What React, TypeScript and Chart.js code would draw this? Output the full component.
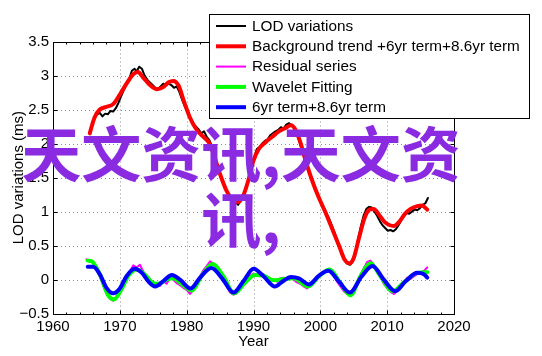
import React, { useEffect, useRef } from 'react';
import { Chart, registerables } from 'chart.js';

Chart.register(...registerables);

// ---------- axis ticks / labels ----------
const xTickValues = [1960, 1970, 1980, 1990, 2000, 2010, 2020];
const yTickValues = [-0.5, 0, 0.5, 1, 1.5, 2, 2.5, 3, 3.5];
const yTickLabels = ['\u22120.5', '0', '0.5', '1', '1.5', '2', '2.5', '3', '3.5'];
const xTitle = 'Year';
const yTitle = 'LOD variations (ms)';
const watermark = '天文资讯,天文资讯,';

const legendLabels = [
  'LOD variations',
  'Background trend +6yr term+8.6yr term',
  'Residual series',
  'Wavelet Fitting',
  '6yr term+8.6yr term',
];
const seriesColors = ['#000000', '#ff0000', '#ff00ff', '#00ff00', '#0000ff'];
const seriesWidths = [2, 4, 2, 4, 4];

// ---------- LOD variations (black) ----------
const lodYears = [
  1965.5, 1966.0, 1966.5, 1967.0, 1967.4, 1967.8, 1968.2, 1968.6, 1969.0, 1969.4,
  1969.8, 1970.3, 1970.8, 1971.3, 1971.8, 1972.2, 1972.5, 1972.9, 1973.3, 1973.7,
  1974.1, 1974.5, 1974.9, 1975.3, 1975.7, 1976.1, 1976.5, 1976.9, 1977.3, 1977.7,
  1978.1, 1978.5, 1978.9, 1979.3, 1979.7, 1980.2, 1980.7, 1981.2, 1981.7, 1982.2,
  1982.6, 1983.0, 1983.4, 1983.8, 1984.3, 1984.8, 1985.3, 1985.8, 1986.3, 1986.8,
  1987.3, 1987.7, 1988.1, 1988.5, 1988.9, 1989.3, 1989.7, 1990.1, 1990.5, 1990.9,
  1991.3, 1991.7, 1992.1, 1992.5, 1992.9, 1993.3, 1993.7, 1994.1, 1994.5, 1994.9,
  1995.3, 1995.7, 1996.1, 1996.5, 1996.9, 1997.3, 1997.7, 1998.1, 1998.5, 1998.9,
  1999.3, 1999.7, 2000.1, 2000.5, 2000.9, 2001.3, 2001.7, 2002.1, 2002.5, 2002.9,
  2003.3, 2003.7, 2004.1, 2004.5, 2004.9, 2005.3, 2005.7, 2006.1, 2006.5, 2006.9,
  2007.3, 2007.7, 2008.1, 2008.5, 2008.9, 2009.3, 2009.7, 2010.1, 2010.5, 2010.9,
  2011.3, 2011.7, 2012.1, 2012.5, 2012.9, 2013.3, 2013.7, 2014.1, 2014.5, 2014.9,
  2015.3, 2015.7, 2016.1,
];
const lodValues = [
  2.18, 2.33, 2.42, 2.45, 2.40, 2.44, 2.43, 2.48, 2.47, 2.52,
  2.60, 2.72, 2.83, 2.92, 3.07, 3.10, 3.06, 3.13, 3.10, 3.00,
  2.94, 2.90, 2.86, 2.82, 2.80, 2.84, 2.88, 2.86, 2.88, 2.86,
  2.82, 2.84, 2.76, 2.65, 2.55, 2.45, 2.35, 2.27, 2.22, 2.15,
  2.18, 2.10, 2.05, 1.95, 1.78, 1.60, 1.46, 1.34, 1.24, 1.17,
  1.14, 1.10, 1.16, 1.24, 1.33, 1.48, 1.62, 1.80, 1.92, 1.95,
  2.00, 2.04, 2.06, 2.12, 2.15, 2.18, 2.20, 2.24, 2.22, 2.28,
  2.30, 2.27, 2.24, 2.14, 2.02, 1.88, 1.76, 1.62, 1.52, 1.42,
  1.32, 1.22, 1.14, 1.06, 0.98, 0.90, 0.80, 0.70, 0.58, 0.46,
  0.35, 0.28, 0.23, 0.22, 0.28, 0.42, 0.62, 0.80, 0.95, 1.04,
  1.07, 1.06, 1.00, 0.94, 0.86, 0.80, 0.76, 0.72, 0.73, 0.71,
  0.74, 0.80, 0.87, 0.93, 0.98, 0.97, 1.00, 1.03, 1.02, 1.05,
  1.10, 1.12, 1.20,
];

// ---------- Background trend + 6yr + 8.6yr (red) ----------
const trendYears = [
  1965.5, 1966.2, 1967.0, 1968.0, 1969.0, 1970.0, 1971.0, 1972.0, 1972.7, 1973.5,
  1974.5, 1975.5, 1976.5, 1977.3, 1978.0, 1978.8, 1979.6, 1980.5, 1981.5, 1982.5,
  1983.3, 1984.0, 1985.0, 1986.0, 1987.0, 1987.7, 1988.4, 1989.2, 1990.0, 1990.8,
  1991.8, 1992.8, 1993.8, 1994.8, 1995.6, 1996.3, 1997.0, 1997.8, 1998.8, 1999.8,
  2000.8, 2001.8, 2002.8, 2003.6, 2004.3, 2005.0, 2005.8, 2006.6, 2007.3, 2008.0,
  2008.8, 2009.6, 2010.4, 2011.0, 2011.8, 2012.6, 2013.5, 2014.5, 2015.2, 2016.0,
];
const trendValues = [
  2.15, 2.38, 2.50, 2.54, 2.58, 2.72, 2.88, 3.02, 3.05, 2.97,
  2.86, 2.80, 2.83, 2.90, 2.92, 2.85, 2.62, 2.38, 2.20, 2.10,
  2.02, 1.85, 1.55, 1.30, 1.16, 1.14, 1.22, 1.45, 1.75, 1.92,
  2.02, 2.10, 2.18, 2.23, 2.27, 2.20, 2.02, 1.75, 1.45, 1.20,
  0.98, 0.74, 0.50, 0.30, 0.24, 0.32, 0.62, 0.90, 1.03, 1.04,
  0.95, 0.85, 0.80, 0.79, 0.85, 0.96, 1.04, 1.08, 1.09, 1.03,
];

// ---------- Residual series (magenta) ----------
const residualYears = [
  1965.0, 1965.5, 1966.0, 1966.5, 1967.0, 1967.5, 1968.0, 1968.5, 1969.0, 1969.5,
  1970.0, 1970.5, 1971.0, 1971.5, 1972.0, 1972.5, 1973.0, 1973.5, 1974.0, 1974.5,
  1975.0, 1975.5, 1976.0, 1976.5, 1977.0, 1977.5, 1978.0, 1978.5, 1979.0, 1979.5,
  1980.0, 1980.5, 1981.0, 1981.5, 1982.0, 1982.5, 1983.0, 1983.5, 1984.0, 1984.5,
  1985.0, 1985.5, 1986.0, 1986.5, 1987.0, 1987.5, 1988.0, 1988.5, 1989.0, 1989.5,
  1990.0, 1990.5, 1991.0, 1991.5, 1992.0, 1992.5, 1993.0, 1993.5, 1994.0, 1994.5,
  1995.0, 1995.5, 1996.0, 1996.5, 1997.0, 1997.5, 1998.0, 1998.5, 1999.0, 1999.5,
  2000.0, 2000.5, 2001.0, 2001.5, 2002.0, 2002.5, 2003.0, 2003.5, 2004.0, 2004.5,
  2005.0, 2005.5, 2006.0, 2006.5, 2007.0, 2007.5, 2008.0, 2008.5, 2009.0, 2009.5,
  2010.0, 2010.5, 2011.0, 2011.5, 2012.0, 2012.5, 2013.0, 2013.5, 2014.0, 2014.5,
  2015.0, 2015.5, 2016.0,
];
const residualValues = [
  0.30, 0.27, 0.25, 0.16, 0.05, -0.08, -0.20, -0.28, -0.31, -0.27,
  -0.18, -0.06, 0.05, 0.12, 0.21, 0.18, 0.22, 0.12, 0.06, -0.02,
  -0.08, -0.05, -0.09, -0.02, -0.06, 0.02, 0.00, -0.05, -0.08, -0.12,
  -0.15, -0.21, -0.15, -0.06, 0.05, 0.14, 0.20, 0.27, 0.24, 0.17,
  0.10, 0.02, -0.10, -0.19, -0.22, -0.20, -0.13, -0.06, 0.02, 0.06,
  0.09, 0.07, 0.06, 0.08, 0.03, -0.02, 0.00, -0.03, 0.02, 0.03,
  0.01, 0.04, 0.00, -0.04, -0.06, -0.10, -0.13, -0.08, -0.03, 0.03,
  0.08, 0.10, 0.14, 0.13, 0.06, -0.03, -0.10, -0.17, -0.21, -0.22,
  -0.16, -0.04, 0.07, 0.17, 0.26, 0.28, 0.22, 0.14, 0.04, -0.06,
  -0.12, -0.18, -0.21, -0.16, -0.08, -0.03, 0.03, 0.01, 0.05, 0.08,
  0.10, 0.13, 0.18,
];

// ---------- Wavelet fitting (green) ----------
const waveletYears = [
  1965.2, 1965.8, 1967.0, 1968.2, 1969.1, 1970.2, 1971.3, 1972.6, 1973.8, 1975.0,
  1975.8, 1977.0, 1978.0, 1979.2, 1980.8, 1982.2, 1983.9, 1985.5, 1987.1, 1988.7,
  1990.2, 1991.5, 1993.0, 1994.5, 1996.0, 1998.2, 1999.8, 2001.4, 2003.0, 2004.5,
  2006.0, 2007.5, 2009.0, 2010.8, 2012.5, 2014.5, 2016.0,
];
const waveletValues = [
  0.28, 0.27, 0.08, -0.22, -0.29, -0.15, 0.06, 0.15, 0.07, -0.05,
  -0.06, 0.00, 0.02, -0.06, -0.16, 0.05, 0.23, 0.05, -0.20, -0.05,
  0.07, 0.06, -0.01, 0.01, 0.02, -0.10, 0.05, 0.15, -0.05, -0.23,
  0.05, 0.24, 0.05, -0.17, -0.04, 0.10, 0.11,
];

// ---------- 6yr + 8.6yr term (blue) ----------
const cycleYears = [
  1965.2, 1966.0, 1967.0, 1968.0, 1969.0, 1970.0, 1971.0, 1972.2, 1973.3, 1974.3,
  1975.3, 1976.5, 1977.8, 1979.0, 1980.6, 1982.0, 1983.7, 1985.3, 1987.0, 1988.5,
  1990.0, 1991.5, 1993.2, 1994.3, 1995.6, 1996.8, 1998.3, 1999.8, 2001.2, 2002.8,
  2004.4, 2006.2, 2007.8, 2009.5, 2011.2, 2012.8, 2014.5, 2015.5, 2016.0,
];
const cycleValues = [
  0.19, 0.19, 0.08, -0.12, -0.20, -0.13, 0.05, 0.16, 0.10, -0.03,
  -0.10, -0.02, 0.07, 0.00, -0.13, 0.03, 0.17, 0.02, -0.19, -0.02,
  0.16, 0.05, -0.10, -0.03, 0.04, 0.02, -0.07, 0.06, 0.13, -0.03,
  -0.19, 0.05, 0.20, 0.00, -0.17, -0.02, 0.10, 0.08, 0.03,
];

const FONT = '"Liberation Sans", Arial, Helvetica, sans-serif';
const toPoints = (xs: number[], ys: number[]) => xs.map((x, i) => ({ x, y: ys[i] }));

const framePlugin = {
  id: 'matlabFrame',
  beforeDatasetsDraw(chart: any) {
    const { ctx, chartArea: a, scales } = chart;
    const xs = scales.x;
    const ys = scales.y;
    ctx.save();
    ctx.strokeStyle = '#8c8c8c';
    ctx.lineWidth = 1;
    ctx.setLineDash([1, 3]);
    xTickValues.slice(1, -1).forEach((t) => {
      const px = Math.round(xs.getPixelForValue(t)) + 0.5;
      ctx.beginPath();
      ctx.moveTo(px, a.top);
      ctx.lineTo(px, a.bottom);
      ctx.stroke();
    });
    yTickValues.slice(1, -1).forEach((t) => {
      const py = Math.round(ys.getPixelForValue(t)) + 0.5;
      ctx.beginPath();
      ctx.moveTo(a.left, py);
      ctx.lineTo(a.right, py);
      ctx.stroke();
    });
    ctx.restore();
  },
  afterDatasetsDraw(chart: any) {
    const { ctx, chartArea: a, scales } = chart;
    const xs = scales.x;
    const ys = scales.y;
    const L = Math.round(a.left) + 0.5;
    const R = Math.round(a.right) + 0.5;
    const T = Math.round(a.top) + 0.5;
    const B = Math.round(a.bottom) + 0.5;
    ctx.save();
    ctx.strokeStyle = '#000';
    ctx.lineWidth = 1;
    ctx.setLineDash([]);
    ctx.strokeRect(L, T, R - L, B - T);
    // major ticks
    ctx.beginPath();
    xTickValues.forEach((t) => {
      const px = Math.round(xs.getPixelForValue(t)) + 0.5;
      ctx.moveTo(px, B); ctx.lineTo(px, B - 4);
      ctx.moveTo(px, T); ctx.lineTo(px, T + 4);
    });
    yTickValues.forEach((t) => {
      const py = Math.round(ys.getPixelForValue(t)) + 0.5;
      ctx.moveTo(L, py); ctx.lineTo(L + 4, py);
      ctx.moveTo(R, py); ctx.lineTo(R - 4, py);
    });
    // minor x ticks
    for (let i = 0; i < xTickValues.length - 1; i++) {
      const step = (xTickValues[i + 1] - xTickValues[i]) / 5;
      for (let k = 1; k < 5; k++) {
        const px = Math.round(xs.getPixelForValue(xTickValues[i] + k * step)) + 0.5;
        ctx.moveTo(px, B); ctx.lineTo(px, B - 2);
        ctx.moveTo(px, T); ctx.lineTo(px, T + 2);
      }
    }
    ctx.stroke();

    // axis titles
    ctx.fillStyle = '#000';
    ctx.font = `15px ${FONT}`;
    ctx.textAlign = 'center';
    ctx.textBaseline = 'middle';
    ctx.fillText(xTitle, (a.left + a.right) / 2, 342);
    ctx.save();
    ctx.translate(19, (a.top + a.bottom) / 2);
    ctx.rotate(-Math.PI / 2);
    ctx.fillText(yTitle, 0, 0);
    ctx.restore();

    // legend
    const lx = 209.5, ly = 14.5, lw = 320, lh = 104;
    ctx.fillStyle = '#fff';
    ctx.fillRect(lx, ly, lw, lh);
    ctx.strokeStyle = '#000';
    ctx.lineWidth = 1;
    ctx.strokeRect(lx, ly, lw, lh);
    ctx.textAlign = 'left';
    ctx.font = `15.3px ${FONT}`;
    legendLabels.forEach((lab, i) => {
      const cy = 26 + i * 20.3;
      ctx.strokeStyle = seriesColors[i];
      ctx.lineWidth = seriesWidths[i];
      ctx.beginPath();
      ctx.moveTo(216, cy);
      ctx.lineTo(246, cy);
      ctx.stroke();
      ctx.fillStyle = '#000';
      ctx.fillText(lab, 252, cy + 0.5);
    });
    ctx.restore();
  },
};

export default function App() {
  const canvasRef = useRef<HTMLCanvasElement | null>(null);

  useEffect(() => {
    document.body.style.margin = '0';
    const canvas = canvasRef.current;
    if (!canvas) return;
    const mk = (label: string, xs: number[], vs: number[], i: number, smooth: boolean, order: number) => ({
      label,
      data: toPoints(xs, vs),
      borderColor: seriesColors[i],
      backgroundColor: seriesColors[i],
      borderWidth: seriesWidths[i],
      pointRadius: 0,
      fill: false,
      tension: smooth ? 0.4 : 0,
      cubicInterpolationMode: smooth ? ('monotone' as const) : ('default' as const),
      borderJoinStyle: 'round' as const,
      borderCapStyle: 'round' as const,
      order,
    });
    const chart = new Chart(canvas, {
      type: 'line',
      data: {
        datasets: [
          mk(legendLabels[0], lodYears, lodValues, 0, false, 5),
          mk(legendLabels[1], trendYears, trendValues, 1, true, 4),
          mk(legendLabels[2], residualYears, residualValues, 2, false, 3),
          mk(legendLabels[3], waveletYears, waveletValues, 3, true, 2),
          mk(legendLabels[4], cycleYears, cycleValues, 4, true, 1),
        ],
      },
      options: {
        responsive: false,
        animation: false,
        devicePixelRatio: 1,
        parsing: true,
        layout: { padding: { left: 0, top: 41.5, right: 88, bottom: 0 } },
        plugins: { legend: { display: false }, tooltip: { enabled: false } },
        scales: {
          x: {
            type: 'linear',
            min: 1960,
            max: 2020,
            afterFit: (s: any) => { s.height = 42.3; },
            afterBuildTicks: (s: any) => { s.ticks = xTickValues.map((v) => ({ value: v })); },
            grid: { display: false, drawTicks: false },
            border: { display: false },
            ticks: {
              padding: 4,
              maxRotation: 0,
              autoSkip: false,
              color: '#000',
              font: { family: FONT, size: 15 },
              callback: (v: any) => String(v),
            },
          },
          y: {
            type: 'linear',
            min: -0.5,
            max: 3.5,
            afterFit: (s: any) => { s.width = 53; },
            afterBuildTicks: (s: any) => { s.ticks = yTickValues.map((v) => ({ value: v })); },
            grid: { display: false, drawTicks: false },
            border: { display: false },
            ticks: {
              padding: 4,
              autoSkip: false,
              color: '#000',
              font: { family: FONT, size: 15 },
              callback: (_v: any, idx: number) => yTickLabels[idx],
            },
          },
        },
      },
      plugins: [framePlugin],
    });
    return () => chart.destroy();
  }, []);

  return (
    <div style={{ position: 'relative', width: 542, height: 356, background: '#fff', overflow: 'hidden' }}>
      <canvas ref={canvasRef} width={542} height={356} style={{ display: 'block' }} />
      <div
        style={{
          position: 'absolute',
          left: 11,
          top: 118,
          width: 460,
          textAlign: 'center',
          fontFamily: '"Noto Sans CJK SC", sans-serif',
          fontWeight: 'bold',
          fontSize: 60,
          lineHeight: '66px',
          color: '#8A2BE2',
          pointerEvents: 'none',
          whiteSpace: 'normal',
          wordBreak: 'break-all',
        }}
      >
        {watermark}
      </div>
    </div>
  );
}
